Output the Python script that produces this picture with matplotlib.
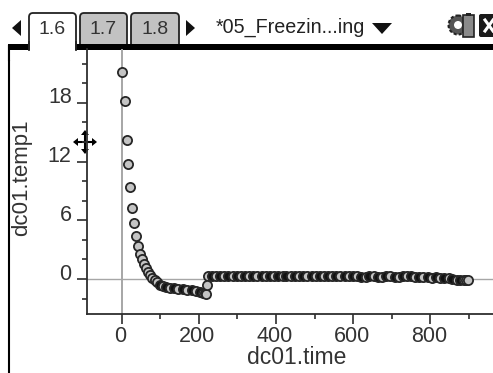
#!/usr/bin/env python3
import matplotlib
matplotlib.use("Agg")
import matplotlib.pyplot as plt
from matplotlib.patches import FancyBboxPatch, Polygon, Rectangle, Circle

# data
time_cool = [0, 9, 13, 17, 22, 28, 32, 38, 43, 48, 53, 58, 63, 68, 74, 80, 86, 92,
             100, 108, 116, 126, 136, 147, 158, 170, 182, 194, 204, 212, 217, 220, 221]
temp_cool = [21.2, 18.2, 14.2, 11.7, 9.4, 7.3, 5.7, 4.4, 3.4, 2.6, 2.0, 1.5, 1.1, 0.7, 0.4, 0.1, -0.1, -0.3,
             -0.6, -0.7, -0.8, -0.9, -0.9, -1.0, -1.0, -1.1, -1.1, -1.2, -1.3, -1.4, -1.4, -1.5, -0.6]
time_flat = [224, 245, 266, 288, 309, 331, 352, 374, 395, 417, 438, 460, 481, 503, 524,
             546, 567, 589, 610, 632, 653, 675, 696, 718, 739, 761, 782, 804, 825, 847, 868, 886, 893, 898]
temp_flat = [0.3, 0.35, 0.35, 0.35, 0.35, 0.35, 0.35, 0.35, 0.35, 0.35, 0.35, 0.35, 0.35, 0.35, 0.35,
             0.35, 0.35, 0.3, 0.3, 0.2, 0.3, 0.2, 0.3, 0.15, 0.3, 0.25, 0.2, 0.1, 0.1, 0.05, -0.1, -0.15, -0.15, -0.15]
# points in between that show only as black on the crowded part of the run
time_dark = [234, 255, 277, 298, 320, 341, 363, 384, 406, 427, 449, 470, 492, 513, 535,
             556, 578, 599, 621, 642, 664, 685, 707, 728, 750, 771, 793, 814, 836, 857, 877]
temp_dark = [0.35, 0.35, 0.35, 0.35, 0.35, 0.35, 0.35, 0.35, 0.35, 0.35, 0.35, 0.35, 0.35, 0.35, 0.35,
             0.35, 0.3, 0.35, 0.25, 0.3, 0.2, 0.35, 0.2, 0.3, 0.3, 0.2, 0.15, 0.15, 0.05, 0.0, -0.15]
x_labels = [0, 200, 400, 600, 800]
y_labels = [18, 12, 6, 0]
x_name = "dc01.time"
y_name = "dc01.temp1"
tab_names = ["1.6", "1.7", "1.8"]
doc_title = "*05_Freezin...ing"

W, H = 493, 373
DARK = "#2e2e2e"
TXT = "#333333"
plt.rcParams['font.family'] = ['Liberation Sans', 'DejaVu Sans']

fig = plt.figure(figsize=(W / 100, H / 100), dpi=100, facecolor="white")

# plot area, placed by pixels
ax = fig.add_axes([87 / W, 1 - 314 / H, (493 - 87) / W, (314 - 49) / H])
ax.patch.set_alpha(0)
ax.set_xlim(-89.4, 962)
ax.set_ylim(-3.58, 23.5)
for s in ['top', 'right']:
    ax.spines[s].set_visible(False)
for s in ['left', 'bottom']:
    ax.spines[s].set_linewidth(1.3)
    ax.spines[s].set_color(DARK)

ax.axvline(0, color="#a6a6a6", lw=1.4, zorder=1)
ax.axhline(0, color="#a6a6a6", lw=1.0, zorder=1)

mk = dict(ls='none', marker='o', ms=6.6, mec="#262626", mew=1.3, zorder=3)
pts = [(t, v, "#c4c4c4") for t, v in zip(time_flat, temp_flat)]
pts += [(t, v, "#111111") for t, v in zip(time_dark, temp_dark)]
for t, v, c in sorted(pts):
    ax.plot(t, v, mfc=c, **mk)
for i, (t, v) in enumerate(zip(time_cool, temp_cool)):
    # the bottom of the dip is crowded and reads almost black
    c = "#111111" if (90 < t < 215 and i % 2 == 0) else "#c4c4c4"
    ax.plot(t, v, mfc=c, **mk)

ax.set_xticks(x_labels)
ax.set_xticklabels([])
ax.set_xticks([100, 300, 500, 700, 900], minor=True)
ax.set_yticks(y_labels)
ax.set_yticklabels([])
ax.set_yticks([22, 20, 16, 14, 10, 8, 4, 2, -2], minor=True)
ax.tick_params(which='major', length=7, width=1.2, color=DARK)
ax.tick_params(which='minor', length=3.5, width=1.2, color=DARK)

# tick labels sit a little above their ticks on the handheld
for v in y_labels:
    ax.annotate(str(v), (0, v), xycoords=('axes fraction', 'data'), xytext=(-11, 3.5),
                textcoords='offset points', ha='right', va='center', fontsize=15.5, color=TXT)
for v in x_labels:
    ax.annotate(str(v), (v, 0), xycoords=('data', 'axes fraction'), xytext=(-1, -16),
                textcoords='offset points', ha='center', va='center', fontsize=15.5, color=TXT)

# screen furniture, in pixel coordinates
ui = fig.add_axes([0, 0, 1, 1], zorder=5)
ui.set_xlim(0, W)
ui.set_ylim(H, 0)
ui.axis('off')
ui.patch.set_alpha(0)

ui.text(297, 357, x_name, ha='center', va='center', fontsize=16.5, color=TXT)
ui.text(22, 178, y_name, ha='center', va='center', rotation=90, fontsize=16, color=TXT)

ui.plot([8.5, 8.5], [46, 373], color="black", lw=1.5)
ui.add_patch(Rectangle((8, 44), 485, 5.5, color="black", lw=0))

tab_x = [(29, 76), (80, 127), (131, 179)]
tab_fill = ["white", "#c2c2c2", "#c2c2c2"]
for (x0, x1), name, fc in zip(tab_x[::-1], tab_names[::-1], tab_fill[::-1]):
    ui.add_patch(FancyBboxPatch((x0 + 2, 15), x1 - x0 - 4, 40, boxstyle="round,pad=2,rounding_size=4",
                                fc=fc, ec="#222222", lw=1.3, clip_on=True))
    ui.text((x0 + x1) / 2, 29, name, ha='center', va='center', fontsize=14, color=TXT)
# cover the tab bottoms again below the bar
ui.add_patch(Rectangle((78, 44), 415, 5.5, color="black", lw=0, zorder=3))
ui.add_patch(Rectangle((10, 49.5), 483, 10, color="white", lw=0, zorder=2))
ui.add_patch(Rectangle((30, 42), 45, 10, color="white", lw=0, zorder=3))
ui.plot([29, 29], [42, 50], color="#222222", lw=1.3, zorder=4)
ui.plot([76, 76], [42, 50], color="#222222", lw=1.3, zorder=4)
ui.plot([8.5, 8.5], [46, 60], color="black", lw=1.5, zorder=4)
ax.set_zorder(6)

ui.add_patch(Polygon([[21, 20], [21, 36], [12, 28]], color="#111111", lw=0))
ui.add_patch(Polygon([[186, 20], [186, 36], [195, 28]], color="#111111", lw=0))
ui.text(216, 27, doc_title, ha='left', va='center', fontsize=14.2, color="#222222")
ui.add_patch(Polygon([[372, 23], [392, 23], [382, 34]], color="#111111", lw=0))

# settings / battery icon and close box
ui.add_patch(Circle((458, 25), 9.5, fc="#555555", ec="#222222", lw=1.5, ls=(0, (1.5, 1))))
ui.add_patch(Circle((458, 25), 4, fc="white", lw=0))
ui.add_patch(Rectangle((463, 15), 11, 22, fc="#8a8a8a", ec="#222222", lw=1.2))
ui.add_patch(Rectangle((466, 12.5), 5, 3, fc="#222222", lw=0))
ui.add_patch(FancyBboxPatch((480, 15), 20, 21, boxstyle="round,pad=1,rounding_size=2", fc="#1a1a1a", lw=0))
ui.plot([485, 493], [20, 31], color="white", lw=2.2, clip_on=True)
ui.plot([493, 485], [20, 31], color="white", lw=2.2, clip_on=True)

# move cursor
cx, cy = 85, 142
ui.plot([cx - 9, cx + 9], [cy, cy], color="black", lw=1.5, zorder=8)
ui.plot([cx, cx], [cy - 9, cy + 9], color="black", lw=1.5, zorder=8)
for dx, dy in [(1, 0), (-1, 0), (0, 1), (0, -1)]:
    tip = (cx + dx * 12, cy + dy * 12)
    a = (cx + dx * 7 + dy * 4, cy + dy * 7 + dx * 4)
    b = (cx + dx * 7 - dy * 4, cy + dy * 7 - dx * 4)
    ui.add_patch(Polygon([tip, a, b], color="black", lw=0, zorder=8))

fig.savefig("out.png", dpi=100, facecolor="white")
